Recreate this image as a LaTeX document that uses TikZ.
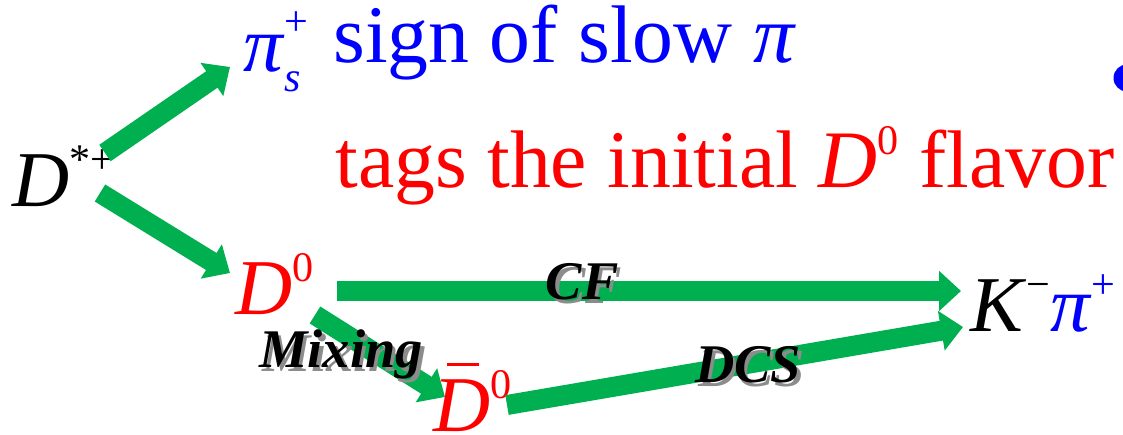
\documentclass[tikz,border=0pt]{standalone}
\usepackage{fontspec}
\setmainfont{Liberation Serif}
\usetikzlibrary{arrows.meta}

\definecolor{pptgreen}{RGB}{0,176,80}
\newcommand{\hiidx}[1]{\raisebox{19pt}{\fontsize{24}{26}\selectfont #1}}
\newcommand{\loidx}[1]{\raisebox{-11pt}{\fontsize{24}{26}\selectfont #1}}
\newcommand{\barD}{\makebox[0pt][l]{\hspace{0.17em}\rule[0.84em]{0.41em}{1.7pt}}\textit{D}}
\newcommand{\shadowlbl}[1]{\makebox[0pt][l]{\hspace{2pt}\raisebox{-2pt}{\color{black!45}#1}}#1}

\begin{document}
\begin{tikzpicture}[x=0.02cm, y=-0.02cm,
    big/.style={inner sep=0pt, anchor=base west, font=\fontsize{45}{48}\selectfont},
    line/.style={big, font=\fontsize{46.5}{50}\selectfont},
    lbl/.style={inner sep=0pt, anchor=base, font=\fontsize{31}{34}\selectfont\bfseries\itshape},
    flow/.style={draw=pptgreen, line width=0.4cm, -{Triangle[width=0.78cm,length=0.44cm]}}]
  \useasboundingbox (0,0) rectangle (1123,435);
  \clip (0,0) rectangle (1123,435);
  % particles
  \node[big] (dstar) at (12,207) {\textit{D}\hiidx{*+}};
  \node[big, blue] (pis) at (243,72) {\textit{π}\makebox[0pt][l]{\raisebox{2pt}{\hiidx{+}}}\loidx{\textit{s}}};
  \node[big, red] (dzero) at (235,315) {\textit{D}\hiidx{0}};
  \node[big, red] (dbar) at (433,432) {\barD\hiidx{0}};
  \node[big] (kpi) at (970,332) {\textit{K}\hiidx{−}\textcolor{blue}{\textit{π}\hiidx{+}}};
  % explanation
  \node[line, blue] (sign) at (333,63) {sign of slow \textit{π}};
  \node[line, red] (tags) at (335,188) {tags the initial \textit{D}\hiidx{0} flavor};
  \fill[blue] (1127,78) circle [radius=13.5];
  % decays
  \draw[flow] ([shift={(93,-54)}]dstar.base west) -- ([shift={(-13,-5)}]pis.base west);
  \draw[flow] ([shift={(88,-14)}]dstar.base west) -- ([shift={(-5,-42)}]dzero.base west);
  \draw[flow] ([shift={(102,-24)}]dzero.base west) -- ([shift={(-9,-41)}]kpi.base west);
  \draw[flow] ([shift={(80,0)}]dzero.base west) -- ([shift={(12,-35)}]dbar.base west);
  \draw[flow] ([shift={(74,-27)}]dbar.base west) -- ([shift={(-7,-5)}]kpi.base west);
  % labels
  \node[lbl] (cf) at (582,300) {\shadowlbl{CF}};
  \node[lbl] (mix) at (341,368) {\shadowlbl{Mixing}};
  \node[lbl] (dcs) at (748,383) {\shadowlbl{DCS}};
\end{tikzpicture}
\end{document}
